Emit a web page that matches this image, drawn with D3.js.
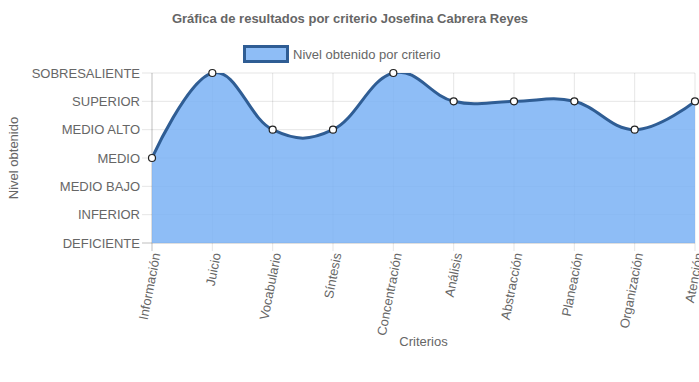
<!DOCTYPE html>
<html><head><meta charset="utf-8">
<script src="https://cdn.jsdelivr.net/npm/d3@7"></script>
<style>body{margin:0;background:#fff}svg{display:block}text{font-family:"Liberation Sans",Arial,sans-serif}</style>
</head><body>
<svg id="c" width="699" height="382"></svg>
<script>
const categories = ["Información","Juicio","Vocabulario","Síntesis","Concentración","Análisis","Abstracción","Planeación","Organización","Atención"];
const values = [3,6,4,4,6,5,5,5,4,5];
const levelLabels = ["DEFICIENTE","INFERIOR","MEDIO BAJO","MEDIO","MEDIO ALTO","SUPERIOR","SOBRESALIENTE"];
const title = "Gráfica de resultados por criterio Josefina Cabrera Reyes";
const seriesName = "Nivel obtenido por criterio";

const svg = d3.select("#c");
const L = 152, R = 695, T = 73, B = 243;
const x = d3.scalePoint().domain(categories).range([L, R]);
const y = d3.scaleLinear().domain([0, 6]).range([B, T]);
const grid = "rgba(0,0,0,0.1)";
const txt = "#666";

levelLabels.forEach((lab, i) => {
  svg.append("line").attr("x1", L - 10).attr("x2", R).attr("y1", y(i)).attr("y2", y(i))
    .attr("stroke", i === 0 ? "rgba(0,0,0,0.25)" : grid).attr("stroke-width", 1);
  svg.append("text").attr("x", L - 12).attr("y", y(i)).attr("dy", "0.35em")
    .attr("text-anchor", "end").attr("font-size", 13).attr("fill", txt).text(lab);
});
categories.forEach((c, i) => {
  svg.append("line").attr("x1", x(c)).attr("x2", x(c)).attr("y1", T).attr("y2", B + 8)
    .attr("stroke", i === 0 ? "rgba(0,0,0,0.25)" : grid).attr("stroke-width", 1);
  svg.append("text").attr("transform", `translate(${x(c)+4},${B + 10}) rotate(-79)`)
    .attr("text-anchor", "end").attr("dy", "0.35em").attr("font-size", 13).attr("fill", txt).text(c);
});

svg.append("clipPath").attr("id", "clip").append("rect").attr("x", L).attr("y", T).attr("width", R - L).attr("height", B - T);
const curve = d3.curveCardinal.tension(-0.2);
const data = categories.map((c, i) => ({c, v: values[i]}));
svg.append("path").datum(data).attr("clip-path", "url(#clip)")
  .attr("d", d3.area().x(d => x(d.c)).y0(B).y1(d => y(d.v)).curve(curve))
  .attr("fill", "rgba(122,177,245,0.85)");
svg.append("path").datum(data).attr("clip-path", "url(#clip)")
  .attr("d", d3.line().x(d => x(d.c)).y(d => y(d.v)).curve(curve))
  .attr("fill", "none").attr("stroke", "#2f5d94").attr("stroke-width", 3);
svg.selectAll("circle.p").data(data).enter().append("circle")
  .attr("cx", d => x(d.c)).attr("cy", d => y(d.v)).attr("r", 3.5)
  .attr("fill", "#fff").attr("stroke", "#222").attr("stroke-width", 1.2);

svg.append("text").attr("x", 350).attr("y", 18).attr("dy", "0.35em").attr("text-anchor", "middle")
  .attr("font-size", 13).attr("font-weight", "bold").attr("fill", txt).text(title);
svg.append("rect").attr("x", 244.5).attr("y", 46.5).attr("width", 43).attr("height", 15)
  .attr("fill", "rgba(122,177,245,0.85)").attr("stroke", "#2f5d94").attr("stroke-width", 3);
svg.append("text").attr("x", 293).attr("y", 54).attr("dy", "0.35em").attr("font-size", 13).attr("fill", txt).text(seriesName);
svg.append("text").attr("transform", "translate(13,158) rotate(-90)").attr("text-anchor", "middle").attr("dy", "0.35em")
  .attr("font-size", 13).attr("fill", txt).text("Nivel obtenido");
svg.append("text").attr("x", (L + R) / 2).attr("y", 341).attr("dy", "0.35em").attr("text-anchor", "middle")
  .attr("font-size", 13).attr("fill", txt).text("Criterios");
</script>
</body></html>
